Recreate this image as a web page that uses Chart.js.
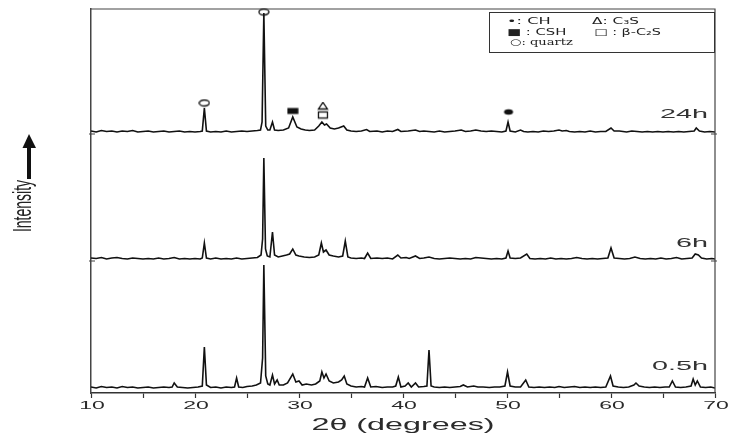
<!DOCTYPE html>
<html>
<head>
<meta charset="utf-8">
<script src="https://cdn.jsdelivr.net/npm/chart.js@4"></script>
<style>
  html, body { margin: 0; padding: 0; background: #fff; }
  #wrap { width: 730px; height: 435px; }
</style>
</head>
<body>
<div id="wrap"><canvas id="grafico"></canvas></div>
<script>
/* dados: [2theta, intensidade acima da linha de base] */

var xTickLabels = [10, 20, 30, 40, 50, 60, 70];
var amostras = ['0.5h', '6h', '24h'];

var pattern_05h = [
  [10,1],[10.5,0],[11,1.5],[11.5,0.5],[12,1],[12.5,0],[13,1.5],[13.5,0.5],[14,1],[14.5,0],[15,0.5],[15.5,1],[16,0],[16.5,0.5],[17,1],[17.5,0.5],[17.8,1],[18,5],[18.3,1],[18.8,0.5],[19.3,0],[19.8,0.5],[20.3,1],[20.7,2],[20.9,41],[21.1,3],[21.5,0.5],[22,1],[22.5,0],[23,1],[23.5,0.5],[23.8,1],[24,10],[24.2,1],[24.6,0.5],[25,1.5],[25.5,2],[25.9,3],[26.3,5],[26.5,30],[26.62,123],[26.8,12],[27,4],[27.2,3],[27.45,13],[27.65,4],[27.9,8],[28.1,3],[28.5,3],[28.9,5],[29.4,14],[29.7,6],[30,7],[30.3,3],[30.7,4],[31.2,3],[31.6,4],[32,7],[32.2,16],[32.4,10],[32.6,14],[32.9,7],[33.3,5],[33.8,6],[34.1,8],[34.35,12],[34.6,4],[35,2],[35.5,1],[36,1.5],[36.3,1],[36.6,10],[36.9,1],[37.4,1.5],[38,0.5],[38.5,1],[39,1],[39.3,2],[39.55,11],[39.8,1],[40.2,2],[40.5,5],[40.8,1],[41.2,5],[41.5,1],[42,1.5],[42.3,2],[42.5,38],[42.7,2],[43,1],[43.5,0.5],[44,1],[44.5,0.5],[45,1],[45.5,1.5],[45.8,3],[46.2,1],[46.8,2],[47.2,1],[47.7,1],[48.3,0.5],[48.8,1],[49.3,1],[49.8,2],[50.05,16],[50.3,2],[50.8,1],[51.3,1],[51.8,8],[52.1,1],[52.6,0.5],[53.1,1],[53.6,0.5],[54.1,1],[54.6,0.5],[55,1.5],[55.5,0.5],[56,1],[56.5,1.5],[57,0.5],[57.5,1],[58,0.5],[58.5,1],[59,0.5],[59.5,1],[59.95,12],[60.2,2],[60.7,1],[61.2,0.5],[61.7,1],[62.2,3],[62.4,5],[62.7,2],[63.2,1],[63.7,0.5],[64.2,1],[64.7,0.5],[65.2,1],[65.6,1],[65.9,7],[66.2,1],[66.7,0.5],[67.2,1],[67.7,2],[67.9,9],[68.1,3],[68.3,7],[68.6,1],[69.1,0.5],[69.6,1],[70,0]
];

var pattern_6h = [
  [10,1],[10.5,0.5],[11,1.5],[11.5,0],[12,1],[12.5,1.5],[13,0.5],[13.5,0],[14,1],[14.5,0.5],[15,0],[15.5,0.5],[16,0],[16.5,1],[17,0],[17.5,0.5],[18,1.5],[18.5,0],[19,0.5],[19.5,0],[20,0.5],[20.5,0],[20.7,1],[20.9,16],[21.1,1],[21.5,0],[22,1],[22.5,0],[23,0.5],[23.5,0],[24,1],[24.5,0],[25,0.5],[25.5,1],[26,1.5],[26.35,4],[26.5,20],[26.62,101],[26.78,10],[26.95,3],[27.2,2],[27.45,27],[27.65,4],[28,2],[28.4,3],[28.8,4],[29.1,5],[29.4,10],[29.7,4],[30,3],[30.5,2],[31,1.5],[31.5,2],[31.9,4],[32.15,16],[32.35,7],[32.6,9],[32.9,4],[33.3,3],[33.8,2],[34.2,3],[34.45,18],[34.7,2],[35,1],[35.5,0.5],[36,1],[36.3,0.5],[36.6,6],[36.9,0.5],[37.5,1],[38,0.5],[38.5,1],[39,0],[39.5,4],[39.8,1],[40.3,1.5],[40.6,0.5],[41.2,3],[41.6,0.5],[42,1],[42.5,2],[43,0.5],[43.5,0],[44,0.5],[44.5,1],[45,0.5],[45.5,0],[46,0.5],[46.5,0],[47,1.5],[47.5,1],[48,0.5],[48.5,0],[49,0.5],[49.5,0],[49.9,1],[50.1,8],[50.3,1],[50.8,0.5],[51.3,1],[51.9,5],[52.2,0.5],[52.7,0],[53.2,0.5],[53.7,0],[54.2,1],[54.7,0],[55.2,0.5],[55.7,0],[56.2,0.5],[56.7,1.5],[57.2,0.5],[57.7,0],[58.2,0.5],[58.7,0],[59.2,0.5],[59.7,1],[60,11],[60.3,1],[60.8,0.5],[61.3,0],[61.8,0.5],[62.3,2],[62.8,0.5],[63.3,0],[63.8,0.5],[64.3,0],[64.8,1],[65.3,0],[65.8,0.5],[66.3,1.5],[66.8,0],[67.3,0.5],[67.8,1],[68.1,5],[68.4,4],[68.7,1],[69.2,0],[69.7,0.5],[70,0]
];

var pattern_24h = [
  [10,1],[10.5,0],[11,1.5],[11.5,0.5],[12,1],[12.5,0],[13,1],[13.5,0.5],[14,1.5],[14.5,0],[15,0.5],[15.5,1],[16,0],[16.5,0.5],[17,1],[17.5,0],[18,0.5],[18.5,1],[19,0],[19.5,0.5],[20,0],[20.5,0.5],[20.7,1],[20.9,24],[21.1,1],[21.5,0],[22,0.5],[22.5,0],[23,1],[23.5,0],[24,0.5],[24.5,1],[25,0.5],[25.5,1],[26,1.5],[26.3,2],[26.45,10],[26.62,119],[26.8,6],[27,2],[27.2,2],[27.45,10],[27.65,2],[28,1.5],[28.5,2],[29,4],[29.4,15],[29.8,5],[30.2,3],[30.6,2],[31,1.5],[31.5,2],[31.9,6],[32.2,10],[32.45,7],[32.65,8],[33,4],[33.4,3],[33.8,4],[34.3,6],[34.6,2],[35,1],[35.5,0.5],[36,1],[36.5,2.5],[36.8,0.5],[37.5,1],[38,0],[38.5,1],[39,0.5],[39.5,2.5],[39.8,0.5],[40.5,1],[41.2,2],[41.6,0.5],[42,1],[42.5,0.5],[43,0],[43.5,1],[44,0],[44.5,0.5],[45,1],[45.6,2],[46,0.5],[46.5,1],[47,2],[47.5,1],[48,0.5],[48.5,1],[49,0.5],[49.5,0],[49.9,1],[50.1,10],[50.3,1],[50.8,0],[51.3,2],[51.6,0.5],[52,0],[52.5,0.5],[53,0],[53.5,1],[54,0.5],[54.5,1],[55,2],[55.3,1],[55.7,1.5],[56,0.5],[56.5,0],[57,0.5],[57.5,0],[58,1],[58.5,0],[59,0.5],[59.5,0.5],[60,4],[60.3,1],[60.8,1],[61.5,0],[62,1],[62.5,0.5],[63,0],[63.5,0.5],[64,0],[64.5,0.5],[65,0],[65.5,0.5],[66,0],[66.5,0.5],[67,0],[67.5,0.5],[68,1],[68.2,4],[68.5,1],[69,0],[69.5,0.5],[70,0]
];

/* marcadores das fases no padrão de 24h: [2theta, altura acima da base, tipo] */
var fases = [
  [20.9, 29, 'quartz'],
  [26.62, 120, 'quartz'],
  [29.4, 21, 'csh'],
  [32.3, 26, 'c3s'],
  [32.3, 17, 'c2s'],
  [50.15, 20, 'ch']
];

var legenda = ['\u2022: CH', '\u0394: C\u2083S', '\u25A0 : CSH', '\u25A1 : \u03B2-C\u2082S', '\u25CB: quartz'];

/* deslocamento vertical de cada padrão (empilhamento) */
var base = { '0.5h': 5, '6h': 134, '24h': 261 };
var padroes = { '0.5h': pattern_05h, '6h': pattern_6h, '24h': pattern_24h };

// simbolos desenhados num canvas pequeno
function Simbolo(tipo) {
  var c = document.createElement('canvas');
  var w = 12, h = 9;
  c.width = w; c.height = h;
  var g = c.getContext('2d');
  g.strokeStyle = '#111';
  g.fillStyle = '#111';
  g.lineWidth = 1.3;
  if (tipo == 'quartz') {
    g.fillStyle = '#fff';
    g.beginPath(); g.ellipse(6, 4.5, 5, 3, 0, 0, Math.PI * 2); g.fill(); g.stroke();
  } else if (tipo == 'ch') {
    g.beginPath(); g.ellipse(6, 4.5, 4.5, 2.8, 0, 0, Math.PI * 2); g.fill();
  } else if (tipo == 'csh') {
    g.fillRect(0.5, 1.5, 11, 6);
  } else if (tipo == 'c3s') {
    g.beginPath(); g.moveTo(6, 0.8); g.lineTo(10.5, 7.5); g.lineTo(1.5, 7.5); g.closePath(); g.stroke();
  } else if (tipo == 'c2s') {
    g.strokeRect(1.5, 1.5, 9, 6);
  }
  return c;
}

// texto esticado na horizontal (a figura original foi alargada)
function Texto(ctx, txt, x, y, align, sx) {
  ctx.save();
  ctx.translate(x, y);
  ctx.scale(sx, 1);
  ctx.textAlign = align;
  ctx.fillText(txt, 0, 0);
  ctx.restore();
}

var datasets = amostras.map(function (nome) {
  return {
    label: nome,
    data: padroes[nome].map(function (p) { return { x: p[0], y: p[1] + base[nome] }; }),
    borderColor: '#111',
    borderWidth: 1.6,
    pointRadius: 0,
    tension: 0,
    fill: false,
    showLine: true
  };
});

datasets.push({
  label: 'fases',
  data: fases.map(function (f) { return { x: f[0], y: f[1] + base['24h'] }; }),
  pointStyle: fases.map(function (f) { return Simbolo(f[2]); }),
  showLine: false,
  clip: false
});

var moldura = {
  id: 'moldura',
  afterDraw: function (chart) {
    var ctx = chart.ctx;
    var a = chart.chartArea;
    var x = chart.scales.x;
    var y = chart.scales.y;
    ctx.save();

    // topo e lado direito
    ctx.strokeStyle = '#444';
    ctx.lineWidth = 1.2;
    ctx.beginPath();
    ctx.moveTo(a.left, a.top); ctx.lineTo(a.right, a.top); ctx.lineTo(a.right, a.bottom);
    ctx.stroke();

    // marcas de separação entre padrões
    ['6h', '24h'].forEach(function (n) {
      var py = y.getPixelForValue(base[n] - 2);
      ctx.beginPath();
      ctx.moveTo(a.left - 2, py); ctx.lineTo(a.left + 4, py);
      ctx.moveTo(a.right - 4, py); ctx.lineTo(a.right + 2, py);
      ctx.stroke();
    });

    // rotulos do eixo x
    ctx.fillStyle = '#2b2b2b';
    ctx.textBaseline = 'middle';
    ctx.font = '11.5px "Liberation Sans", Arial, sans-serif';
    xTickLabels.forEach(function (v) {
      Texto(ctx, String(v), x.getPixelForValue(v) + 1, 406, 'center', 2);
    });
    ctx.font = '17px "Liberation Sans", Arial, sans-serif';
    Texto(ctx, '2\u03B8 (degrees)', 403, 425, 'center', 1.9);

    // nomes das amostras
    ctx.fillStyle = '#333';
    ctx.font = '12.5px "Liberation Sans", Arial, sans-serif';
    ctx.textBaseline = 'alphabetic';
    var alturas = { '0.5h': 18, '6h': 12, '24h': 14 };
    amostras.forEach(function (n) {
      Texto(ctx, n, a.right - 7, y.getPixelForValue(base[n] + alturas[n]), 'right', 2.3);
    });

    // caixa da legenda
    ctx.strokeStyle = '#333';
    ctx.lineWidth = 1;
    ctx.strokeRect(489.5, 12.5, 225, 40);
    ctx.fillStyle = '#222';
    ctx.textBaseline = 'middle';
    ctx.font = '9px "DejaVu Sans", sans-serif';
    Texto(ctx, legenda[0], 507, 22, 'left', 1.8);
    Texto(ctx, legenda[1], 592, 22, 'left', 1.7);
    Texto(ctx, legenda[2], 507, 33, 'left', 1.65);
    Texto(ctx, legenda[3], 594, 33, 'left', 1.6);
    ctx.font = '9px "DejaVu Serif", serif';
    Texto(ctx, legenda[4], 510, 43, 'left', 1.45);

    // titulo do eixo y com a seta
    ctx.fillStyle = '#111';
    ctx.fillRect(27, 146, 4, 33);
    ctx.beginPath();
    ctx.moveTo(22.5, 148); ctx.lineTo(36, 148); ctx.lineTo(29, 134); ctx.closePath();
    ctx.fill();
    ctx.translate(31, 206);
    ctx.rotate(-Math.PI / 2);
    ctx.scale(1, 1.8);
    ctx.textAlign = 'center';
    ctx.textBaseline = 'alphabetic';
    ctx.font = '14px "Liberation Sans", sans-serif';
    ctx.fillStyle = '#222';
    ctx.fillText('Intensity', 0, 0);
    ctx.restore();
  }
};

var ctx = document.getElementById('grafico').getContext('2d');
var grafico = new Chart(ctx, {
  type: 'scatter',
  data: { datasets: datasets },
  options: {
    responsive: true,
    maintainAspectRatio: false,
    animation: false,
    events: [],
    layout: { padding: { top: 9, right: 15, left: 0, bottom: 0 } },
    plugins: { legend: { display: false }, tooltip: { enabled: false } },
    scales: {
      x: {
        type: 'linear',
        min: 10, max: 70,
        grid: { drawOnChartArea: false, tickLength: 5, color: '#333', tickWidth: 1.2 },
        border: { color: '#333', width: 1.5 },
        ticks: {
          stepSize: 5,
          autoSkip: false,
          maxRotation: 0,
          callback: function () { return ''; }
        },
        afterFit: function (s) { s.height = 42; }
      },
      y: {
        min: 0, max: 384,
        grid: { display: false },
        border: { color: '#444', width: 1.5 },
        ticks: { display: false },
        afterFit: function (s) { s.width = 91; }
      }
    }
  },
  plugins: [moldura]
});
</script>
</body>
</html>
